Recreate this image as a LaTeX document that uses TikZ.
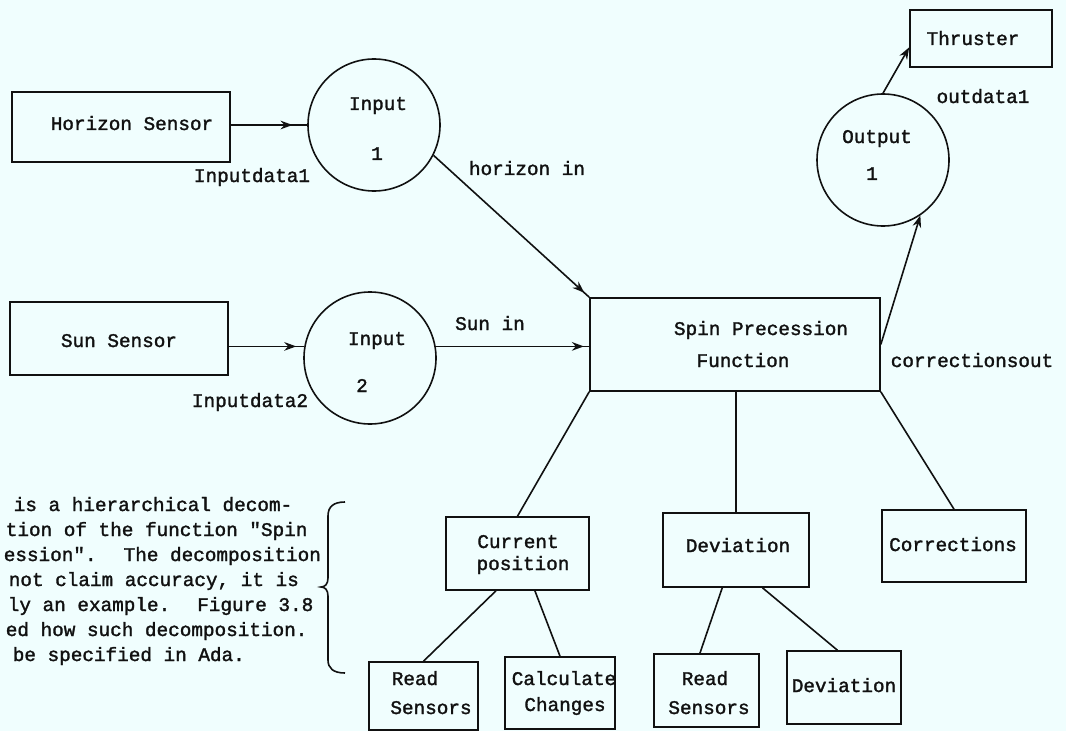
\documentclass[tikz,border=0pt]{standalone}
\usepackage{fontspec}
\newfontfamily\typer{Liberation Mono}[FakeBold=1.6]
\usetikzlibrary{arrows.meta,fit,decorations.markings}
\definecolor{paper}{HTML}{F0FEFE}
\definecolor{ink}{HTML}{111111}
\begin{document}
\begin{tikzpicture}[x=0.75pt,y=-0.75pt,
  line width=1.2pt, draw=ink,
  box/.style={draw=ink, line width=1.2pt, inner sep=0pt, fit={#1}},
  circ/.style={draw=ink, circle, line width=1.2pt, inner sep=0pt, minimum size=99pt},
  lbl/.style={font=\typer\fontsize{14.5}{17}\selectfont, text=ink, inner sep=0pt,
              text height=7.5pt, text depth=0pt},
  para/.style={lbl, anchor=west},
  tip/.style={-{Stealth[length=9pt,width=6.5pt]}},
  midtip/.style={postaction={decorate}, decoration={markings,
      mark=at position #1 with {\arrow{Stealth[length=9pt,width=6.5pt]}}}}
]
\fill[paper] (0,0) rectangle (1066,731);
\useasboundingbox (0,0) rectangle (1066,731);

% sensors, input and output processes
\node[box={(12,92) (230,162)}] (hs) {};
\node[box={(10,302) (228,375)}] (ss) {};
\node[circ] (i1) at (374,125) {};
\node[circ] (i2) at (370,358) {};
\node[box={(590,298) (880,391)}] (sp) {};
\node[circ] (o1) at (883,160) {};
\node[box={(910,10) (1052,67)}] (th) {};

% decomposition tree
\node[box={(446,517) (589,590)}] (cp) {};
\node[box={(663,513) (809,587)}] (dv) {};
\node[box={(882,510) (1026,582)}] (co) {};
\node[box={(369,662) (478,730)}] (rs1) {};
\node[box={(505,657) (615,729)}] (cc) {};
\node[box={(654,654) (759,727)}] (rs2) {};
\node[box={(787,651) (901,724)}] (dv2) {};

% texts
\node[lbl] (t-hs) at (132,125) {Horizon Sensor};
\node[lbl] (t-id1) at (252,177) {Inputdata1};
\node[lbl] (t-i1a) at (378,105) {Input};
\node[lbl] (t-i1b) at (377,155) {1};
\node[lbl] (t-hin) at (527,170) {horizon in};
\node[lbl] (t-ss) at (119,342) {Sun Sensor};
\node[lbl] (t-i2a) at (377,340) {Input};
\node[lbl] (t-i2b) at (362,387) {2};
\node[lbl] (t-id2) at (250,402) {Inputdata2};
\node[lbl] (t-sin) at (490,325) {Sun in};
\node[lbl] (t-sp1) at (761,330) {Spin Precession};
\node[lbl] (t-sp2) at (743,362) {Function};
\node[lbl] (t-cor) at (972,362) {correctionsout};
\node[lbl] (t-o1a) at (877,138) {Output};
\node[lbl] (t-o1b) at (872,175) {1};
\node[lbl] (t-th) at (973,40) {Thruster};
\node[lbl] (t-od) at (983,98) {outdata1};
\node[lbl] (t-cp1) at (518,543) {Current};
\node[lbl] (t-cp2) at (523,565) {position};
\node[lbl] (t-dv) at (738,547) {Deviation};
\node[lbl] (t-co) at (953,546) {Corrections};
\node[lbl] (t-rs1a) at (415,680) {Read};
\node[lbl] (t-rs1b) at (431,709) {Sensors};
\node[lbl] (t-cc1) at (564,680) {Calculate};
\node[lbl] (t-cc2) at (565,706) {Changes};
\node[lbl] (t-rs2a) at (705,680) {Read};
\node[lbl] (t-rs2b) at (709,709) {Sensors};
\node[lbl] (t-dv2) at (844,687) {Deviation};

% explanatory paragraph
\node[para] (p1) at (13,506) {is a hierarchical decom-};
\node[para] (p2) at (5,531) {tion of the function "Spin};
\node[para] (p3) at (3,556) {ession".~ The decomposition};
\node[para] (p4) at (8,581) {not claim accuracy, it is};
\node[para] (p5) at (7,606) {ly an example.~ Figure 3.8};
\node[para] (p6) at (5,631) {ed how such decomposition.};
\node[para] (p7) at (12,656) {be specified in Ada.};

% brace
\draw (345,502) .. controls (333,502) and (328,507) .. (328,516) -- (328,578)
  .. controls (328,584) and (325,587) .. (321,587)
  .. controls (325,587) and (328,590) .. (328,596) -- (328,660)
  .. controls (328,668) and (333,673) .. (345,673);

% data flows
\draw[midtip=-11pt] (hs.east |- i1.west) -- (i1.west);
\draw[midtip=-5pt] (i1.-27) -- (sp.north west);
\draw[midtip=-6pt] (ss.east |- i2.170) -- (i2.170);
\draw[midtip=-4pt] (i2.10) -- (sp.west |- i2.10);
\draw[tip] (sp.east) -- (o1.-56);
\draw[tip] (o1.north) -- (th.187);

% hierarchy
\draw (sp.south west) -- (cp.north);
\draw (sp.south -| dv.north) -- (dv.north);
\draw (sp.south east) -- (co.north);
\draw (cp.240) -- (rs1.north);
\draw (cp.295) -- (cc.north);
\draw (dv.250) -- (rs2.100);
\draw (dv.305) -- (dv2.100);
\end{tikzpicture}
\end{document}
